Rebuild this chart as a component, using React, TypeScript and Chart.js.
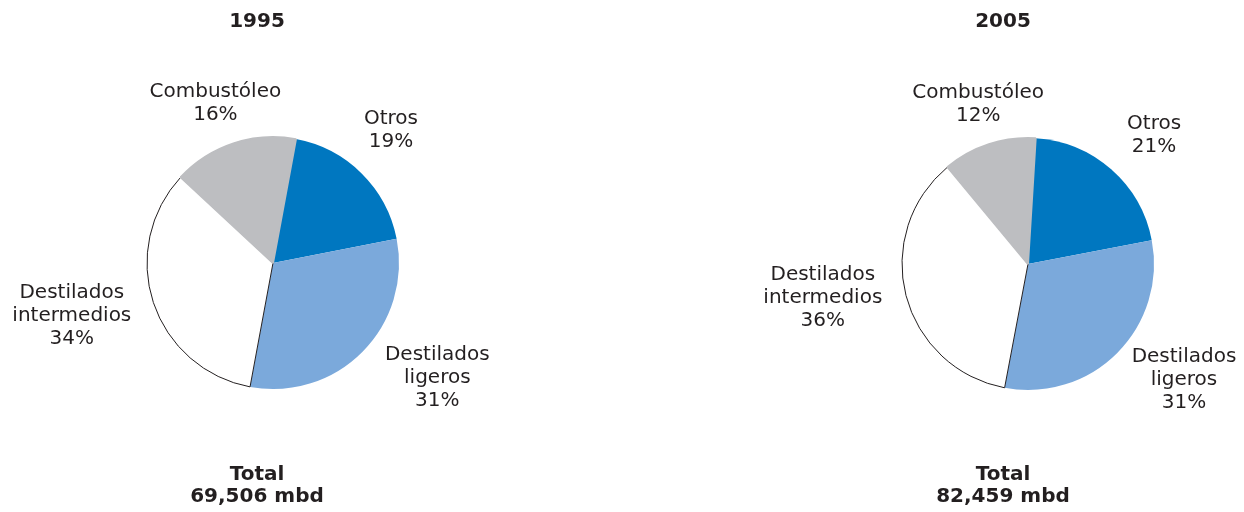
import React, { useEffect, useRef } from "react";
import { Chart, registerables } from "chart.js";

Chart.register(...registerables);

// ---------- data ----------
const CATEGORIES = ["Otros", "Destilados ligeros", "Destilados intermedios", "Combustóleo"];
const CATEGORY_LINES = [["Otros"], ["Destilados", "ligeros"], ["Destilados", "intermedios"], ["Combustóleo"]];
const YEARS = ["1995", "2005"];
const VALUES_1995 = [19, 31, 34, 16];
const VALUES_2005 = [21, 31, 36, 12];
const TOTALS = ["69,506 mbd", "82,459 mbd"];
const TOTAL_LABEL = "Total";

// ---------- styles ----------
const SLICE_COLORS = ["#0077C0", "#7BA9DB", "#FFFFFF", "#BDBEC1"];
const SLICE_BORDER_COLORS = ["#0077C0", "#7BA9DB", "#231F20", "#BDBEC1"];
const SLICE_BORDER_WIDTHS = [0, 0, 1, 2];
const TEXT_COLOR = "#231F20";
const LABEL_FONT = '20px "DejaVu Sans"';
const BOLD_FONT = 'bold 20px "DejaVu Sans"';
const LABEL_LINE_HEIGHT = 23;

// label placement relative to each slice: angle shift from the slice's mid angle (deg), distance as multiple of radius
const PLACEMENT_1995 = [
  { da: -3.1, f: 1.41 },
  { da: -9.8, f: 1.59 },
  { da: 3.7, f: 1.65 },
  { da: -1.5, f: 1.35 },
];
const PLACEMENT_2005 = [
  { da: 3.1, f: 1.43 },
  { da: -8.4, f: 1.54 },
  { da: 5.2, f: 1.65 },
  { da: 0.8, f: 1.33 },
];

const pieTextPlugin = {
  id: "pieText",
  afterDraw(chart: any, _args: any, opts: any) {
    const ctx = chart.ctx;
    const meta = chart.getDatasetMeta(0);
    const values = chart.data.datasets[0].data as number[];
    ctx.save();
    ctx.fillStyle = TEXT_COLOR;
    ctx.textAlign = "center";
    ctx.textBaseline = "middle";

    // title & total
    ctx.font = BOLD_FONT;
    const cx = chart.width / 2;
    ctx.fillText(opts.title, cx, opts.titleY);
    ctx.fillText(TOTAL_LABEL, cx, opts.totalY);
    ctx.fillText(opts.total, cx, opts.totalY + 22);

    // slice labels
    ctx.font = LABEL_FONT;
    meta.data.forEach((arc: any, i: number) => {
      const p = arc.getProps(["x", "y", "startAngle", "endAngle", "outerRadius"], true);
      const mid = (p.startAngle + p.endAngle) / 2 + (opts.placement[i].da * Math.PI) / 180;
      const d = p.outerRadius * opts.placement[i].f;
      const lx = p.x + Math.cos(mid) * d;
      const ly = p.y + Math.sin(mid) * d;
      const lines = [...CATEGORY_LINES[i], `${values[i]}%`];
      const top = ly - ((lines.length - 1) * LABEL_LINE_HEIGHT) / 2;
      lines.forEach((t, k) => ctx.fillText(t, lx, top + k * LABEL_LINE_HEIGHT));
    });
    ctx.restore();
  },
};

function makeConfig(values: number[], rotation: number, padding: any, placement: any, title: string, total: string): any {
  return {
    type: "pie",
    data: {
      labels: CATEGORIES,
      datasets: [
        {
          data: values,
          backgroundColor: SLICE_COLORS,
          borderColor: SLICE_BORDER_COLORS,
          borderWidth: SLICE_BORDER_WIDTHS,
        },
      ],
    },
    options: {
      responsive: false,
      animation: false,
      rotation,
      layout: { padding },
      plugins: {
        legend: { display: false },
        tooltip: { enabled: false },
        title: { display: false },
        pieText: { title, total, placement, titleY: 22, totalY: 475 },
      },
    },
    plugins: [pieTextPlugin],
  };
}

function PieCanvas({ left, width, config }: { left: number; width: number; config: any }) {
  const ref = useRef<HTMLCanvasElement | null>(null);
  useEffect(() => {
    if (!ref.current) return;
    const chart = new Chart(ref.current, config);
    return () => chart.destroy();
  }, [config]);
  return (
    <canvas
      ref={ref}
      width={width}
      height={512}
      style={{ position: "absolute", left, top: 0, width, height: 512, display: "block" }}
    />
  );
}

const CONFIG_1995 = makeConfig(VALUES_1995, 10.5, { left: 146, right: 114, top: 136, bottom: 122 }, PLACEMENT_1995, YEARS[0], TOTALS[0]);
const CONFIG_2005 = makeConfig(VALUES_2005, 3.5, { left: 145, right: 95, top: 137, bottom: 121 }, PLACEMENT_2005, YEARS[1], TOTALS[1]);

export default function App() {
  return (
    <div style={{ position: "absolute", left: 0, top: 0, width: 1244, height: 512, overflow: "hidden", background: "#fff" }}>
      <PieCanvas left={0} width={514} config={CONFIG_1995} />
      <PieCanvas left={756} width={494} config={CONFIG_2005} />
    </div>
  );
}
